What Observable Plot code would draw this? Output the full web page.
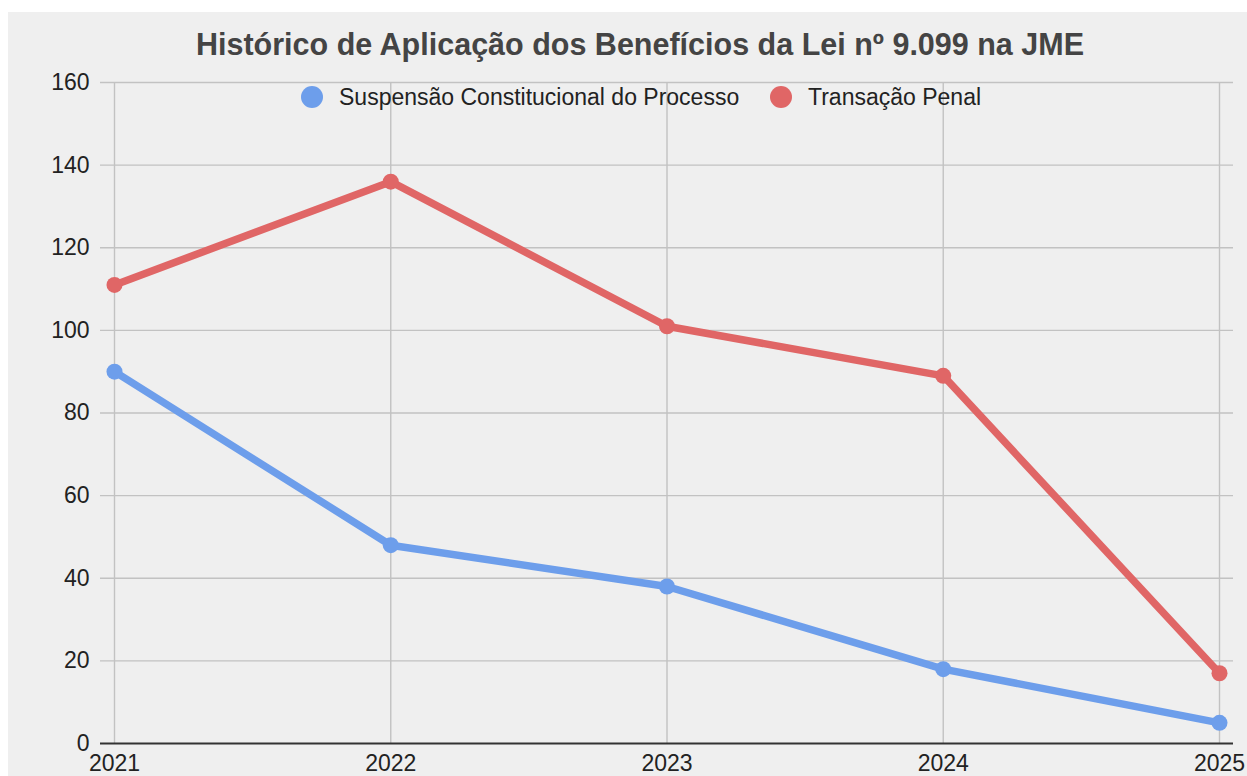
<!DOCTYPE html>
<html>
<head>
<meta charset="utf-8">
<script src="https://cdn.jsdelivr.net/npm/d3@7"></script>
<script src="https://cdn.jsdelivr.net/npm/@observablehq/plot@0.6"></script>
<style>
  html, body { margin: 0; padding: 0; background: #ffffff; width: 1247px; height: 776px; overflow: hidden; }
  #bg { position: absolute; left: 8px; top: 12px; right: 0; bottom: 0; background: #efefef; }
  #chart { position: absolute; left: 0; top: 0; }
  #title { position: absolute; left: 0; width: 1280px; top: 26px; text-align: center;
           font-family: "Liberation Sans", Arial, sans-serif; font-weight: bold; font-size: 30.5px; color: #444444; line-height: 36px; }
  #legend { position: absolute; top: 84px; left: 0; font-family: "Liberation Sans", Arial, sans-serif; font-size: 23px; color: #222; }
  .item { position: absolute; white-space: nowrap; display: flex; align-items: center; line-height: 26px; }
  .sw { width: 22px; height: 22px; border-radius: 50%; display: inline-block; margin-right: 16px; }
</style>
</head>
<body>
<div id="bg"></div>
<div id="chart"></div>
<div id="title">Histórico de Aplicação dos Benefícios da Lei nº 9.099 na JME</div>
<div id="legend"></div>
<script>
const years = [2021, 2022, 2023, 2024, 2025];
const seriesNames = ["Suspensão Constitucional do Processo", "Transação Penal"];
const suspensao = [90, 48, 38, 18, 5];
const transacao = [111, 136, 101, 89, 17];
const seriesColors = ["#6d9eeb", "#e06666"];
const yTicks = [0, 20, 40, 60, 80, 100, 120, 140, 160];

const data = [];
years.forEach((y, i) => {
  data.push({year: y, value: suspensao[i], series: seriesNames[0]});
});
years.forEach((y, i) => {
  data.push({year: y, value: transacao[i], series: seriesNames[1]});
});

const plot = Plot.plot({
  width: 1247,
  height: 776,
  marginLeft: 100,
  marginRight: 14,
  marginTop: 82,
  marginBottom: 33,
  style: {background: "transparent", fontFamily: "'Liberation Sans', Arial, sans-serif", fontSize: "23px", color: "#222"},
  x: {domain: [2021, 2025], insetLeft: 14, insetRight: 14, label: null},
  y: {domain: [0, 160], label: null},
  color: {domain: seriesNames, range: seriesColors},
  marks: [
    Plot.ruleY(yTicks.filter(d => d !== 0), {stroke: "#c2c2c2", strokeWidth: 1.4}),
    Plot.ruleX(years, {stroke: "#c2c2c2", strokeWidth: 1.4}),
    Plot.ruleY([0], {stroke: "#333333", strokeWidth: 2}),
    Plot.line(data, {x: "year", y: "value", z: "series", stroke: "series", strokeWidth: 7.5, strokeLinejoin: "round", strokeLinecap: "round"}),
    Plot.dot(data, {x: "year", y: "value", fill: "series", r: 8}),
    Plot.axisX({ticks: years, tickFormat: d => String(d), tickSize: 0, tickPadding: 11, fontSize: 23, fill: "#222"}),
    Plot.axisY({ticks: yTicks, tickSize: 0, tickPadding: 11, fontSize: 23, fill: "#222"})
  ]
});
document.getElementById("chart").appendChild(plot);

const legend = document.getElementById("legend");
const legendX = [301, 770];
seriesNames.forEach((name, i) => {
  const it = document.createElement("div");
  it.className = "item";
  it.style.left = legendX[i] + "px";
  const sw = document.createElement("span");
  sw.className = "sw";
  sw.style.background = seriesColors[i];
  it.appendChild(sw);
  it.appendChild(document.createTextNode(name));
  legend.appendChild(it);
});
</script>
</body>
</html>
